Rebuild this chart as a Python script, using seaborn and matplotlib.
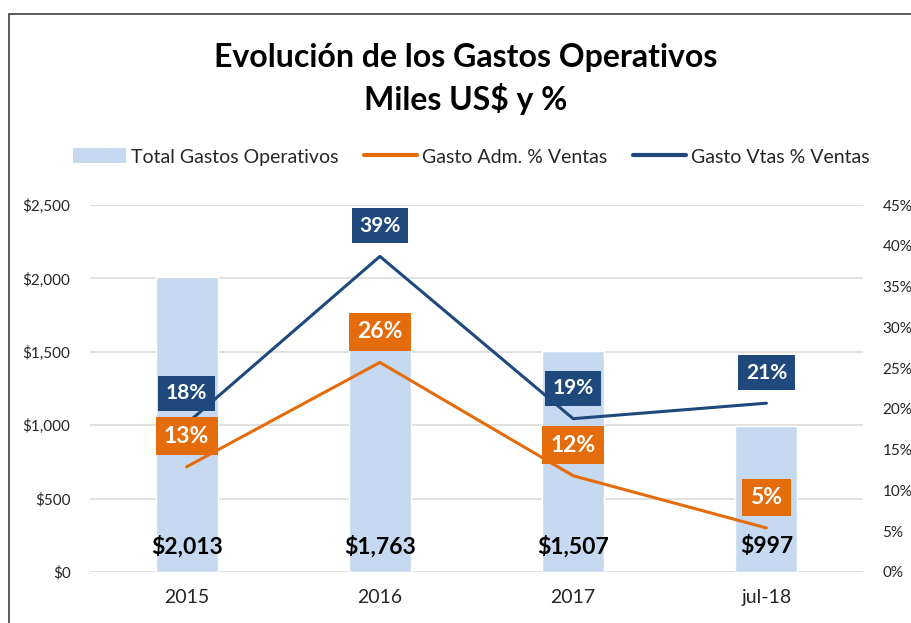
import matplotlib
matplotlib.use("Agg")
import numpy as np
import pandas as pd
import seaborn as sns
import matplotlib.pyplot as plt
from matplotlib.patches import Patch, Rectangle
from matplotlib.lines import Line2D
from matplotlib.ticker import FuncFormatter

## datos: gastos operativos (miles US$) y % sobre ventas
periodos = ["2015", "2016", "2017", "jul-18"]
total_gastos = [2013, 1763, 1507, 997]
gasto_adm_pct = [12.9, 25.7, 11.8, 5.4]
gasto_vtas_pct = [18.2, 38.7, 18.8, 20.7]

c_barra = "#c6d9f0"
c_adm = "#e46c0a"
c_vtas = "#1f497d"
c_texto = "#262626"

sns.set_style("white")
plt.rcParams["font.family"] = ["Lato", "DejaVu Sans"]

df = pd.DataFrame({"periodo": periodos, "total": total_gastos})
pos = np.arange(len(periodos))

fig = plt.figure(figsize=(9.12, 6.23), dpi=100)
ax = fig.add_axes([0.0987, 0.0819, 0.8476, 0.589])

sns.barplot(data=df, x="periodo", y="total", color=c_barra, saturation=1,
            width=0.32, errorbar=None, ax=ax)
ax.set_ylim(0, 2500)
ax.set_yticks(np.arange(0, 2501, 500))
ax.yaxis.set_major_formatter(FuncFormatter(lambda v, p: f"\\${v:,.0f}"))
ax.set_axisbelow(True)
ax.yaxis.grid(True, color="#d9d9d9", lw=1.1)
ax.xaxis.grid(False)

# valores de las barras, abajo
for i, v in enumerate(total_gastos):
    ax.annotate(f"\\${v:,.0f}", xy=(i, 0), xytext=(0, 18), textcoords="offset points",
                ha="center", va="center", fontsize=16.5, fontweight="bold", color="black")

# eje secundario: porcentajes
ax2 = ax.twinx()
sns.lineplot(x=pos, y=gasto_adm_pct, ax=ax2, color=c_adm, lw=2.2, solid_capstyle="round")
sns.lineplot(x=pos, y=gasto_vtas_pct, ax=ax2, color=c_vtas, lw=2.2, solid_capstyle="round")
ax2.set_ylim(0, 45)
ax2.set_yticks(np.arange(0, 46, 5))
ax2.yaxis.set_major_formatter(FuncFormatter(lambda v, p: f"{v:.0f}%"))

for serie, col, fs in [(gasto_adm_pct, c_adm, 16.5), (gasto_vtas_pct, c_vtas, 15)]:
    for i, v in enumerate(serie):
        ax2.annotate(f"{v:.0f}%", xy=(i, v), xytext=(0, 22), textcoords="offset points",
                     ha="center", va="center", color="white", fontsize=fs, fontweight="bold",
                     bbox=dict(boxstyle="square,pad=0.36", fc=col, ec="none"))

ax.set_xlim(-0.5, 3.5)
ax.set_xticks(pos, periodos)
for a in (ax, ax2):
    a.set_xlabel("")
    a.set_ylabel("")
    for s in a.spines.values():
        s.set_visible(False)
ax.tick_params(axis="y", length=0, pad=14, labelsize=11, labelcolor=c_texto)
ax2.tick_params(axis="y", length=0, pad=14, labelsize=11, labelcolor=c_texto)
ax.tick_params(axis="x", length=0, pad=12, labelsize=14, labelcolor=c_texto)

# titulo
fig.text(0.511, 1 - 57 / 623, "Evolución de los Gastos Operativos", ha="center", va="center",
         fontsize=23, fontweight="bold", color="black")
fig.text(0.511, 1 - 99 / 623, "Miles US\\$ y %", ha="center", va="center",
         fontsize=23, fontweight="bold", color="black")

# leyenda
handles = [Patch(facecolor=c_barra, edgecolor="none"),
           Line2D([], [], color=c_adm, lw=3),
           Line2D([], [], color=c_vtas, lw=3)]
labels = ["Total Gastos Operativos", "Gasto Adm. % Ventas", "Gasto Vtas % Ventas"]
fig.legend(handles, labels, loc="center", bbox_to_anchor=(0.517, 0.748), ncol=3,
           frameon=False, fontsize=14, handlelength=2.7, handleheight=0.8,
           columnspacing=1.3, handletextpad=0.3, labelcolor=c_texto)

# marco del grafico
fig.add_artist(Rectangle((9 / 912, -0.5), 2, 1 - 14 / 623 + 0.5, transform=fig.transFigure,
                         fill=False, ec="#404040", lw=1.2, clip_on=False))

fig.savefig("out.png", dpi=100)
